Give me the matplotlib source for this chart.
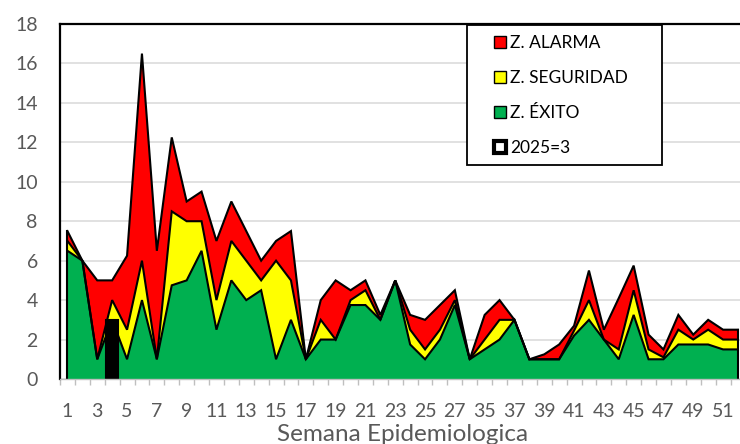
import numpy as np
import matplotlib
matplotlib.use("Agg")
import matplotlib.pyplot as plt
from matplotlib.patches import Patch, Rectangle

plt.rcParams['font.family'] = ['Lato', 'DejaVu Sans']

# Epidemiological weeks (categories)
semanas = list(range(1, 28)) + [34] + list(range(35, 53))

# Upper boundary of each zone (cumulative levels)
exito = [6.5, 6, 1, 3, 1, 4, 1, 4.75, 5, 6.5, 2.5, 5, 4, 4.5, 1, 3,
         1, 2, 2, 3.75, 3.75, 3, 5, 1.75, 1, 2, 3.75,
         1, 1.5, 2, 3, 1, 1, 1, 2.2, 3, 2, 1, 3.25, 1, 1, 1.75, 1.75, 1.75, 1.5, 1.5]
seguridad = [7, 6, 1, 4, 2.5, 6, 1, 8.5, 8, 8, 4, 7, 6, 5, 6, 5,
             1, 3, 2, 4, 4.5, 3, 5, 2.5, 1.5, 2.5, 4,
             1, 2, 3, 3, 1, 1, 1, 2.45, 4, 2, 1.5, 4.5, 1.5, 1.1, 2.5, 2, 2.5, 2, 2]
alarma = [7.5, 6, 5, 5, 6.25, 16.5, 6.5, 12.25, 9, 9.5, 7, 9, 7.5, 6, 7, 7.5,
          1, 4, 5, 4.5, 5, 3.25, 5, 3.25, 3, 3.75, 4.5,
          1, 3.25, 4, 3, 1, 1.25, 1.75, 2.7, 5.5, 2.5, 4.1, 5.75, 2.25, 1.5, 3.25, 2.25, 3, 2.5, 2.5]
casos_2025 = [np.nan, np.nan, np.nan, 3]

labels = ["Z. ALARMA", "Z. SEGURIDAD", "Z. ÉXITO", "2025=3"]
c_red, c_yel, c_grn = "#FF0000", "#FFFF00", "#00B050"
gray_txt = "#595959"

fig = plt.figure(figsize=(7.40, 4.44), dpi=100)
ax = fig.add_axes([60 / 740, 65 / 444, 685.4 / 740, 355 / 444])

x = np.arange(len(semanas))
ex = np.array(exito, float)
se = np.array(seguridad, float)
al = np.array(alarma, float)

ax.fill_between(x, 0, ex, facecolor=c_grn, lw=0, zorder=2)
ax.fill_between(x, ex, se, facecolor=c_yel, lw=0, zorder=2)
ax.fill_between(x, se, al, facecolor=c_red, lw=0, zorder=2)
for arr in (ex, se, al):
    ax.plot(x, arr, color="black", lw=1.5, zorder=3, solid_joinstyle="miter")
ax.plot([x[0], x[0]], [0, al[0]], color="black", lw=1.5, zorder=3)
ax.plot([x[-1], x[-1]], [0, al[-1]], color="black", lw=1.5, zorder=3)

xb = x[:len(casos_2025)]
ax.bar(xb, casos_2025, width=0.85, color="black", edgecolor="black", lw=1.5, zorder=4)

ax.set_xlim(-0.5, len(semanas) - 0.5)
ax.set_ylim(0, 18)
ax.set_yticks(np.arange(0, 19, 2))
ax.grid(axis="y", color="#d9d9d9", lw=1.1, zorder=0)
ax.set_axisbelow(True)

ax.set_xticks(x[::2])
ax.set_xticklabels([str(s) for s in semanas[::2]])
ax.set_xticks(np.arange(len(semanas) + 1) - 0.5, minor=True)
ax.tick_params(axis="x", which="major", length=0, pad=17, labelsize=14, labelcolor=gray_txt)
ax.tick_params(axis="x", which="minor", length=4, width=1, color="#bfbfbf")
ax.tick_params(axis="y", length=0, pad=16, labelsize=14, labelcolor=gray_txt)

for s in ("left", "top", "right"):
    ax.spines[s].set_color("black")
    ax.spines[s].set_linewidth(1.6)
ax.spines["bottom"].set_color("#bfbfbf")
ax.spines["bottom"].set_linewidth(1)
ax.spines["bottom"].set_zorder(5)

fig.text(403 / 740, 3 / 444, "Semana Epidemiologica", ha="center", va="baseline",
         fontsize=17.5, color=gray_txt)

# Legend
handles = [Patch(facecolor=c_red, edgecolor="black", lw=1),
           Patch(facecolor=c_yel, edgecolor="black", lw=1),
           Patch(facecolor=c_grn, edgecolor="black", lw=1),
           Patch(facecolor="white", edgecolor="black", lw=3)]
fig.patches.append(Rectangle((467 / 740, (444 - 165) / 444), 195 / 740, 140 / 444,
                             transform=fig.transFigure, facecolor="white",
                             edgecolor="black", lw=1.3, zorder=10))
leg = fig.legend(handles, labels, loc="upper left",
                 bbox_to_anchor=(494 / 740, (444 - 35) / 444),
                 frameon=False, fontsize=12.5, handlelength=0.7, handleheight=0.7,
                 handletextpad=0.25, labelspacing=1.1, borderpad=0, borderaxespad=0)
leg.set_zorder(11)

fig.savefig("out.png", dpi=100)
